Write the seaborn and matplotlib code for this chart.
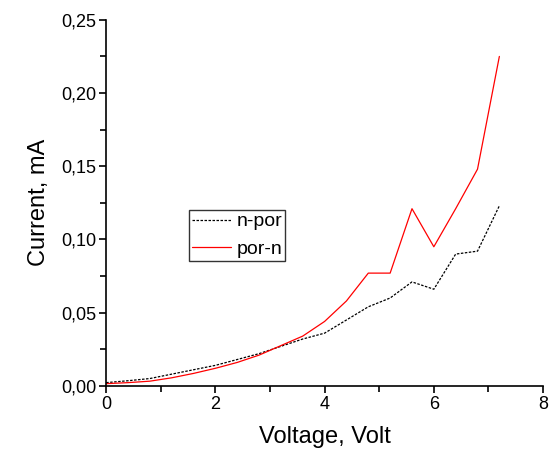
import numpy as np
import pandas as pd
import matplotlib
matplotlib.use("Agg")
import matplotlib.pyplot as plt
import seaborn as sns
from matplotlib.ticker import MultipleLocator, FuncFormatter

voltage = [0.0, 0.4, 0.8, 1.2, 1.6, 2.0, 2.4, 2.8, 3.2, 3.6,
           4.0, 4.4, 4.8, 5.2, 5.6, 6.0, 6.4, 6.8, 7.2]
n_por = [0.0022, 0.0035, 0.0050, 0.0080, 0.0110, 0.0140, 0.0180, 0.0220, 0.0270, 0.0320,
         0.0360, 0.0450, 0.0540, 0.0600, 0.0710, 0.0660, 0.0900, 0.0920, 0.1230]
por_n = [0.0015, 0.0022, 0.0032, 0.0055, 0.0085, 0.0120, 0.0160, 0.0210, 0.0275, 0.0340,
         0.0440, 0.0580, 0.0770, 0.0770, 0.1210, 0.0950, 0.1210, 0.1480, 0.2250]

df = pd.DataFrame({"Voltage": voltage * 2,
                   "Current": n_por + por_n,
                   "series": ["n-por"] * len(voltage) + ["por-n"] * len(voltage)})

sns.set_style("ticks", {"axes.edgecolor": "black", "text.color": "black",
                        "xtick.color": "black", "ytick.color": "black",
                        "axes.labelcolor": "black"})
plt.rcParams["font.family"] = ["Liberation Sans", "DejaVu Sans"]

fig = plt.figure(figsize=(5.53, 4.61), dpi=100)
ax = fig.add_axes([0.192, 0.163, 0.79, 0.794])

sns.lineplot(data=df, x="Voltage", y="Current", hue="series", style="series",
             palette={"n-por": "black", "por-n": "red"},
             dashes={"n-por": (2, 1.2), "por-n": ""},
             linewidth=0.9, ax=ax)

ax.set_xlim(0, 8)
ax.set_ylim(0, 0.25)
ax.xaxis.set_major_locator(MultipleLocator(2))
ax.xaxis.set_minor_locator(MultipleLocator(1))
ax.yaxis.set_major_locator(MultipleLocator(0.05))
ax.yaxis.set_minor_locator(MultipleLocator(0.025))
ax.yaxis.set_major_formatter(FuncFormatter(lambda v, p: f"{v:.2f}".replace(".", ",")))
ax.tick_params(which="major", length=5, width=1.2, labelsize=13, direction="out", pad=2)
ax.tick_params(which="minor", length=4, width=1.2, direction="out")
for s in ["left", "bottom"]:
    ax.spines[s].set_linewidth(1.2)
sns.despine(ax=ax)

ax.set_xlabel("Voltage, Volt", fontsize=17, labelpad=10)
ax.set_ylabel("Current, mA", fontsize=17, labelpad=8)

leg = ax.legend(loc="upper left", bbox_to_anchor=(0.19, 0.481), fontsize=14,
                frameon=True, fancybox=False, edgecolor="black",
                handlelength=2.0, handletextpad=0.3, borderpad=0.15,
                labelspacing=0.5, borderaxespad=0)
leg.get_frame().set_linewidth(1.0)

fig.savefig("out.png", dpi=100)
